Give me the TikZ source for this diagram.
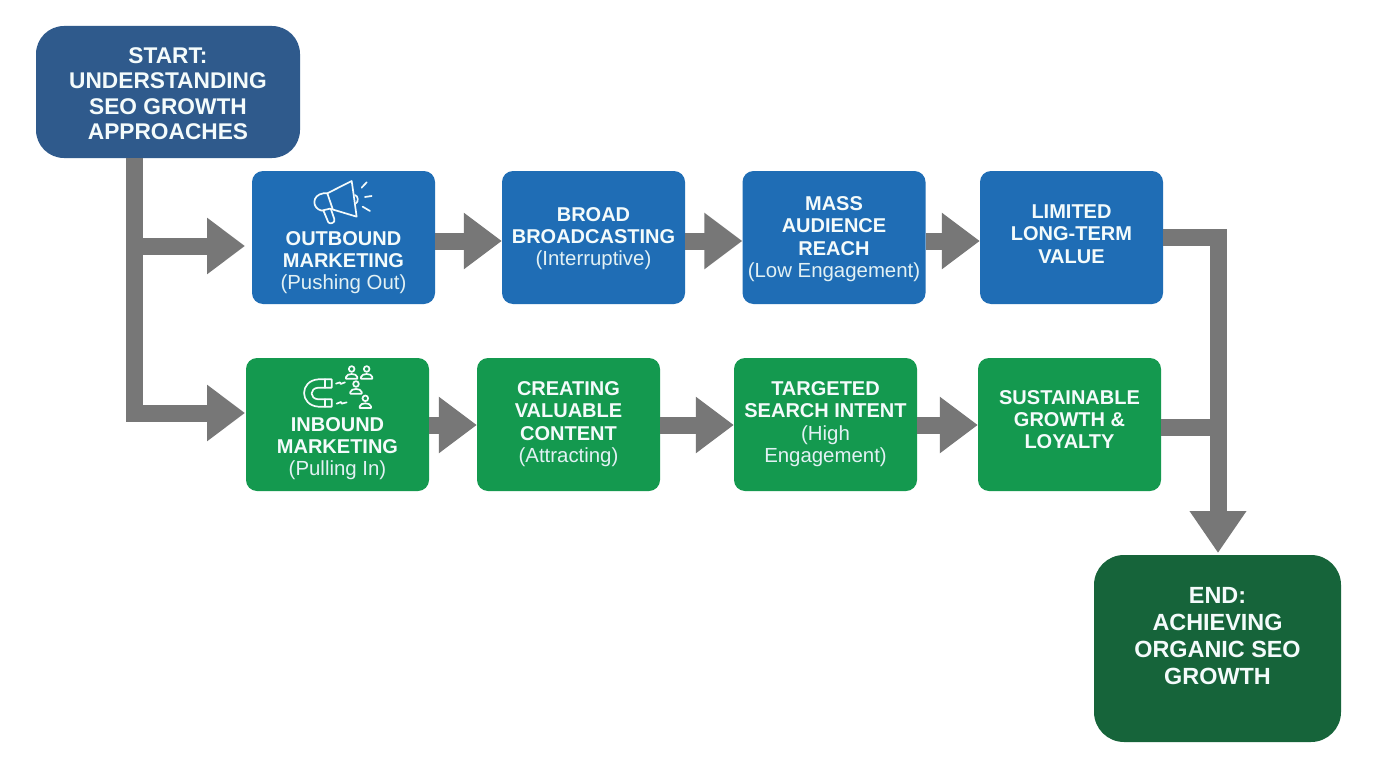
\documentclass[tikz,border=0pt]{standalone}
\usepackage{fontspec}
\setmainfont{Liberation Sans}
\usetikzlibrary{arrows.meta}
\definecolor{bluebox}{HTML}{1F6DB5}
\definecolor{greenbox}{HTML}{14994F}
\definecolor{startc}{HTML}{2F5A8C}
\definecolor{endc}{HTML}{16643A}
\definecolor{flowc}{HTML}{777777}
\definecolor{inkc}{HTML}{F4FBFB}
\definecolor{subc}{HTML}{E2F1F4}
\newcommand{\nl}[1]{{\fontsize{20}{22.3}\selectfont\bfseries #1}}
\newcommand{\sbt}[1]{{\color{subc}\fontsize{20.4}{22.3}\selectfont #1}}
\tikzset{
  x=1pt,y=1pt,
  boxbase/.style={rounded corners=11pt,minimum width=183pt,minimum height=133pt,inner sep=0pt},
  bluestyle/.style={boxbase,fill=bluebox},
  greenstyle/.style={boxbase,fill=greenbox},
  tx/.style={text=inkc,align=center,inner sep=0pt,font=\fontsize{20}{22.3}\selectfont},
  flow/.style={line width=17pt,draw=flowc},
  flowa/.style={flow,-{Triangle[length=38pt,width=54pt]}},
  flowb/.style={flow,-{Triangle[length=42pt,width=54pt]}},
  trunk/.style={flow,line cap=butt},
  icon/.style={draw=inkc,line width=1.7pt,line join=round,line cap=round,fill=none},
}
\begin{document}
\begin{tikzpicture}
\useasboundingbox (0,0) rectangle (1376,-768);
\fill[white] (0,0) rectangle (1376,-768);
% Nodes
\node[boxbase,fill=startc,minimum width=264pt,minimum height=132pt,rounded corners=28pt,
  label={[tx,yshift=-1.5pt,font=\fontsize{22.7}{25.5}\selectfont\bfseries]center:{START:\\UNDERSTANDING\\SEO GROWTH\\APPROACHES}}] (start) at (168,-92) {};
\node[bluestyle,label={[tx,yshift=-25pt]center:{\nl{OUTBOUND}\\\nl{MARKETING}\\\sbt{(Pushing Out)}}}] (outb) at (343.5,-237.5) {};
\node[bluestyle,label={[tx,yshift=-1pt]center:{\nl{BROAD}\\\nl{BROADCASTING}\\\sbt{(Interruptive)}}}] (broad) at (593.5,-237.5) {};
\node[bluestyle,label={[tx,yshift=-1.5pt]center:{\nl{MASS}\\\nl{AUDIENCE}\\\nl{REACH}\\\sbt{(Low Engagement)}}}] (mass) at (834,-237.5) {};
\node[bluestyle,label={[tx,yshift=3.5pt]center:{\nl{LIMITED}\\\nl{LONG-TERM}\\\nl{VALUE}}}] (limit) at (1071.5,-237.5) {};
\node[greenstyle,label={[tx,yshift=-24pt]center:{\nl{INBOUND}\\\nl{MARKETING}\\\sbt{(Pulling In)}}}] (inb) at (337.5,-424.5) {};
\node[greenstyle,label={[tx,yshift=.5pt]center:{\nl{CREATING}\\\nl{VALUABLE}\\\nl{CONTENT}\\\sbt{(Attracting)}}}] (create) at (568.5,-424.5) {};
\node[greenstyle,label={[tx,yshift=.5pt]center:{\nl{TARGETED}\\\nl{SEARCH INTENT}\\\sbt{(High}\\\sbt{Engagement)}}}] (target) at (825.5,-424.5) {};
\node[greenstyle,label={[tx,yshift=5pt]center:{\nl{SUSTAINABLE}\\\nl{GROWTH \&}\\\nl{LOYALTY}}}] (sustain) at (1069.5,-424.5) {};
\node[boxbase,fill=endc,minimum width=247pt,minimum height=187pt,rounded corners=30pt,
  label={[tx,yshift=12pt,font=\fontsize{23.4}{27}\selectfont\bfseries]center:{END:\\ACHIEVING\\ORGANIC SEO\\GROWTH}}] (endn) at (1217.5,-648.5) {};
% Routing points
\coordinate (j1) at (134.5,-246);
\coordinate (j2) at (134.5,-413);
\coordinate (t1) at (245,-246);
\coordinate (t2) at (245,-413);
\coordinate (r1) at (1218,-237.5);
\coordinate (r2) at (1218,-427);
\coordinate (t3) at (1218,-553);
% Connectors
\draw[trunk] (start.south -| j1) -- ([yshift=-8.5pt]j2);
\draw[flowa] (j1) -- (t1);
\draw[flowa] (j2) -- (t2);
\draw[flowa] (outb.east |- 0,-241) -- (broad.west |- 0,-241);
\draw[flowa] (broad.east |- 0,-241) -- (mass.west |- 0,-241);
\draw[flowa] (mass.east |- 0,-241) -- (limit.west |- 0,-241);
\draw[flowa] (inb.east |- 0,-425) -- (create.west |- 0,-425);
\draw[flowa] (create.east |- 0,-425) -- (target.west |- 0,-425);
\draw[flowa] (target.east |- 0,-425) -- (sustain.west |- 0,-425);
\draw[trunk] (limit.east |- r1) -- ([xshift=8.5pt]r1);
\draw[flowb] ([yshift=8.5pt]r1) -- (t3);
\draw[trunk] (sustain.east |- r2) -- (r2);
% Megaphone icon
\begin{scope}[shift={(240,-165)},x=.3333pt,y=-.3333pt,icon]
\draw (335,48) -- (262,85) -- (250,85) .. controls (215,90) and (215,130) .. (245,137) -- (270,131) -- (350,155) .. controls (345,120) and (340,80) .. (335,48);
\draw (262,85) -- (278,132);
\draw (250,136) -- (265,172) .. controls (270,180) and (288,172) .. (283,162) -- (273,133);
\draw (345,90) .. controls (355,93) and (356,110) .. (348,115);
\draw (365,68) -- (380,52);
\draw (375,96) -- (395,93);
\draw (368,125) -- (390,138);
\end{scope}
% Magnet and people icon
\begin{scope}[shift={(240,-350)},x=.3333pt,y=-.3333pt,icon]
\draw (275,88) -- (235,88) .. controls (178,92) and (178,166) .. (235,170) -- (275,170) -- (275,148) -- (235,148) .. controls (208,146) and (208,115) .. (235,113) -- (275,113) -- cycle;
\draw (255,88) -- (255,113);
\draw (255,148) -- (255,170);
\draw (288,101) -- (300,97) -- (302,102) -- (315,97);
\draw (290,161) -- (303,156) -- (305,161) -- (320,157);
\foreach \px/\py in {335/57,380/57,348/102,376/145}{
  \draw (\px,\py) circle[radius=8.5];
  \draw (\px-17,\py+29) -- (\px-17,\py+24) .. controls (\px-15,\py+12) and (\px+15,\py+12) .. (\px+17,\py+24) -- (\px+17,\py+29) -- cycle;
}
\end{scope}
\end{tikzpicture}
\end{document}
